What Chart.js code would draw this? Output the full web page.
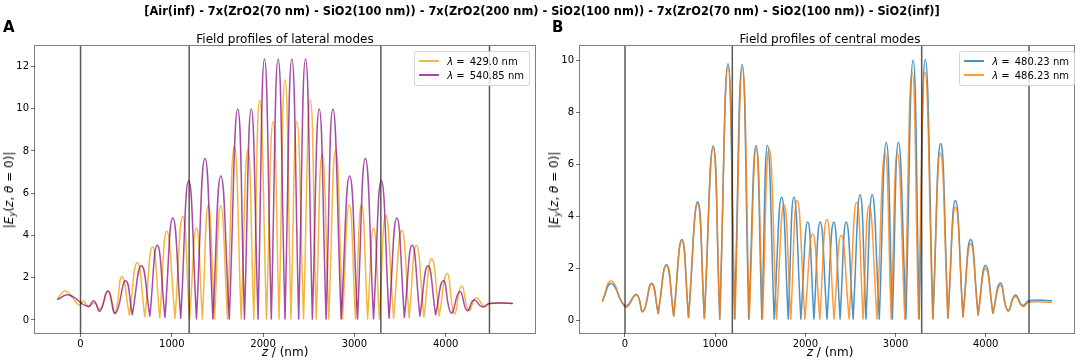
<!DOCTYPE html>
<html>
<head>
<meta charset="utf-8">
<script src="https://cdn.jsdelivr.net/npm/chart.js@4.4.1/dist/chart.umd.min.js"></script>
<style>
  html, body { margin: 0; padding: 0; background: #fff; }
  body { width: 1084px; height: 363px; position: relative; overflow: hidden;
         font-family: "DejaVu Sans", sans-serif; color: #000; }
  canvas { position: absolute; top: 0; }
  .txt { position: absolute; white-space: nowrap; }
  .sup { font-weight: bold; font-size: 11.4px; line-height: 12px; left: 542px; top: 5px; transform: translateX(-50%); }
  .pl { font-weight: bold; font-size: 15px; line-height: 15px; top: 20px; }
  .st { font-size: 12px; line-height: 12px; top: 33px; transform: translateX(-50%); }
  .xl { font-size: 12px; line-height: 12px; top: 346px; transform: translateX(-50%); }
  .yl { font-size: 12px; line-height: 14px; top: 189.5px; transform: translate(-50%, -50%) rotate(-90deg); }
  .yl sub { font-size: 8.5px; vertical-align: -2px; line-height: 0; }
  .leg { position: absolute; top: 51px; background: rgba(255,255,255,0.8);
         border: 1px solid rgba(204,204,204,0.8); border-radius: 3px;
         padding: 2px 5px 3px 4px; font-size: 10px; }
  .row { height: 14px; display: flex; align-items: center; white-space: nowrap; }
  .hl { width: 20px; height: 1.5px; margin-right: 8px; display: inline-block; }
</style>
</head>
<body>
<canvas id="chartA" width="545" height="363" style="left:0px"></canvas>
<canvas id="chartB" width="539" height="363" style="left:545px"></canvas>

<div class="txt sup">[Air(inf) - 7x(ZrO2(70 nm) - SiO2(100 nm)) - 7x(ZrO2(200 nm) - SiO2(100 nm)) - 7x(ZrO2(70 nm) - SiO2(100 nm)) - SiO2(inf)]</div>
<div class="txt pl" style="left:3px">A</div>
<div class="txt pl" style="left:552px">B</div>
<div class="txt st" style="left:285px">Field profiles of lateral modes</div>
<div class="txt st" style="left:830px">Field profiles of central modes</div>
<div class="txt xl" style="left:285px"><i>z</i> / (nm)</div>
<div class="txt xl" style="left:830px"><i>z</i> / (nm)</div>
<div class="txt yl" style="left:9px">|<i>E</i><sub><i>y</i></sub>(<i>z</i>, <i>θ</i> = 0)|</div>
<div class="txt yl" style="left:554px">|<i>E</i><sub><i>y</i></sub>(<i>z</i>, <i>θ</i> = 0)|</div>

<div class="leg" style="right:554px">
  <div class="row"><span class="hl" style="background:rgba(240,160,0,0.75)"></span><span><i>λ</i> =&ensp;429.0 nm</span></div>
  <div class="row"><span class="hl" style="background:rgba(128,0,128,0.7)"></span><span><i>λ</i> =&ensp;540.85 nm</span></div>
</div>
<div class="leg" style="right:9px">
  <div class="row"><span class="hl" style="background:rgba(31,119,180,0.8)"></span><span><i>λ</i> =&ensp;480.23 nm</span></div>
  <div class="row"><span class="hl" style="background:rgba(255,127,14,0.8)"></span><span><i>λ</i> =&ensp;486.23 nm</span></div>
</div>

<script>
// ---- axis ticks and layer interfaces (nm) ----
const Z_TICKS = [0, 1000, 2000, 3000, 4000];
const A_Y_TICKS = [0, 2, 4, 6, 8, 10, 12];
const B_Y_TICKS = [0, 2, 4, 6, 8, 10];
const INTERFACES = [0, 1190, 3290, 4480];

// ---- panel A: lateral modes, [z (nm), |Ey|] read at peaks and minima ----
const A_429 = [[-250,1.02],[-164,1.37],[-18,0.71],[29,0.9],[85,0.65],[150,0.8],[215,0.52],[307,1.37],[378,0.35],[452,2.04],[535,0.22],[622,2.71],[705,0.15],[789,3.45],[868,0.1],[945,4.2],[1035,0.07],[1120,4.91],[1195,0.04],[1270,4.35],[1335,0.04],[1400,5.41],[1468,0.04],[1536,5.41],[1610,0.04],[1685,8.2],[1760,0.04],[1833,8.05],[1898,0.04],[1963,10.4],[2037,0.04],[2110,9.4],[2175,0.04],[2240,11.37],[2305,0.04],[2370,9.4],[2443,0.04],[2517,10.43],[2582,0.04],[2647,7.85],[2720,0.04],[2795,8.05],[2870,0.04],[2944,5.44],[3012,0.04],[3079,5.44],[3145,0.04],[3210,4.35],[3275,0.04],[3344,4.94],[3430,0.07],[3519,4.24],[3600,0.1],[3679,3.53],[3762,0.14],[3846,2.9],[3930,0.2],[4016,2.2],[4095,0.3],[4173,1.6],[4255,0.45],[4333,1.05],[4425,0.62],[4480,0.78],[4730,0.78]];
const A_541 = [[-250,0.97],[-128,1.18],[80,0.63],[146,0.9],[212,0.42],[299,1.37],[383,0.31],[493,1.85],[567,0.24],[667,2.57],[759,0.18],[841,3.53],[925,0.12],[1011,4.83],[1098,0.08],[1185,6.59],[1270,0.05],[1363,7.64],[1450,0.04],[1537,6.82],[1630,0.04],[1722,9.99],[1796,0.04],[1870,9.99],[1945,0.04],[2015,12.35],[2090,0.04],[2165,12.35],[2240,0.04],[2315,12.35],[2390,0.04],[2465,12.35],[2540,0.04],[2615,9.99],[2690,0.04],[2765,9.99],[2855,0.04],[2948,6.82],[3035,0.04],[3120,7.64],[3210,0.05],[3295,6.59],[3380,0.08],[3465,4.83],[3548,0.12],[3633,3.53],[3718,0.18],[3806,2.57],[3890,0.24],[3975,1.85],[4060,0.33],[4155,1.35],[4235,0.44],[4310,0.94],[4400,0.62],[4480,0.78],[4730,0.78]];

// ---- panel B: central modes ----
const B_480 = [[-250,0.73],[-150,1.4],[5,0.55],[127,0.98],[200,0.33],[295,1.42],[368,0.26],[460,2.13],[540,0.16],[631,3.1],[704,0.1],[806,4.55],[880,0.06],[978,6.7],[1051,0.04],[1142,9.87],[1215,0.04],[1299,9.83],[1372,0.04],[1453,6.72],[1518,0.04],[1580,6.72],[1654,0.04],[1737,4.73],[1810,0.04],[1873,4.73],[1950,0.04],[2026,3.77],[2095,0.04],[2164,3.77],[2240,0.04],[2315,3.77],[2385,0.04],[2453,3.77],[2530,0.04],[2607,4.82],[2672,0.04],[2741,4.82],[2820,0.04],[2897,6.83],[2965,0.04],[3032,6.83],[3115,0.04],[3195,10.0],[3262,0.04],[3330,10.03],[3415,0.05],[3500,6.8],[3582,0.08],[3664,4.6],[3748,0.12],[3832,3.1],[3915,0.19],[3998,2.1],[4080,0.26],[4162,1.42],[4245,0.36],[4327,0.96],[4410,0.56],[4480,0.74],[4730,0.74]];
const B_486 = [[-250,0.75],[-150,1.5],[5,0.5],[127,0.96],[200,0.32],[295,1.4],[368,0.25],[460,2.1],[540,0.15],[631,3.05],[704,0.1],[806,4.47],[880,0.06],[978,6.6],[1051,0.04],[1142,9.75],[1220,0.04],[1302,9.7],[1378,0.04],[1456,6.62],[1525,0.04],[1598,6.6],[1680,0.04],[1763,4.44],[1838,0.04],[1909,4.6],[1995,0.04],[2081,3.32],[2160,0.04],[2238,3.87],[2318,0.04],[2398,3.26],[2485,0.04],[2569,4.53],[2640,0.04],[2708,4.4],[2795,0.04],[2883,6.42],[2952,0.04],[3021,6.42],[3103,0.04],[3184,9.54],[3255,0.04],[3326,9.54],[3412,0.05],[3497,6.43],[3580,0.08],[3664,4.34],[3748,0.12],[3832,2.94],[3915,0.19],[3998,1.98],[4080,0.26],[4162,1.34],[4245,0.36],[4327,0.9],[4410,0.52],[4480,0.68],[4730,0.68]];

// Build line points; near-zero minima become sharp cusps (segment break).
function buildSeries(pairs) {
  const pts = [];
  for (let i = 0; i < pairs.length; i++) {
    const [z, e] = pairs[i];
    pts.push({ x: z, y: e });
    const cusp = i > 0 && i < pairs.length - 1 && e < pairs[i-1][1] && e < pairs[i+1][1] && e < 0.3;
    if (cusp) { pts.push({ x: z, y: null }); pts.push({ x: z, y: e }); }
  }
  return pts;
}

const FONT = { family: '"DejaVu Sans", sans-serif', size: 10 };
const TICK_COLOR = 'rgba(0,0,0,0.55)';

const framePlugin = {
  id: 'frame',
  afterDatasetsDraw(chart) {
    const { ctx, chartArea: a } = chart;
    ctx.save();
    ctx.strokeStyle = 'rgba(0,0,0,0.5)';
    ctx.lineWidth = 1;
    ctx.strokeRect(a.left - 0.5, a.top - 0.5, a.right - a.left + 1, a.bottom - a.top + 1);
    ctx.restore();
  }
};

function makeChart(id, series, yMin, yMax, yTicks) {
  const datasets = [];
  INTERFACES.forEach(z => datasets.push({
    data: [{ x: z, y: yMin - 5 }, { x: z, y: yMax + 5 }],
    borderColor: 'rgba(0,0,0,0.65)', borderWidth: 1.5, pointRadius: 0, tension: 0
  }));
  series.forEach(s => datasets.push({
    label: s.label, data: buildSeries(s.pairs), borderColor: s.color, borderWidth: 1.5,
    pointRadius: 0, tension: 0.5, borderCapStyle: 'round', borderJoinStyle: 'round', spanGaps: false
  }));
  return new Chart(document.getElementById(id), {
    type: 'line',
    data: { datasets },
    options: {
      responsive: false, animation: false, events: [],
      layout: { padding: { left: 0, right: 10, top: 46, bottom: 0 } },
      plugins: { legend: { display: false }, tooltip: { enabled: false }, title: { display: false } },
      scales: {
        x: {
          type: 'linear', min: -499, max: 4979,
          afterBuildTicks: s => { s.ticks = Z_TICKS.map(v => ({ value: v })); },
          afterFit: s => { s.height = 30; },
          grid: { drawOnChartArea: false, drawTicks: true, tickLength: 4, color: TICK_COLOR },
          border: { display: false },
          ticks: { font: FONT, color: '#000', padding: 1, maxRotation: 0, callback: v => String(v) }
        },
        y: {
          type: 'linear', min: yMin, max: yMax,
          afterBuildTicks: s => { s.ticks = yTicks.map(v => ({ value: v })); },
          afterFit: s => { s.width = 35; },
          grid: { drawOnChartArea: false, drawTicks: true, tickLength: 4, color: TICK_COLOR },
          border: { display: false },
          ticks: { font: FONT, color: '#000', padding: 2, callback: v => String(v) }
        }
      }
    },
    plugins: [framePlugin]
  });
}

// Chart.js draws the first dataset on top: purple over orange (A), orange over blue (B)
makeChart('chartA', [
  { label: 'λ = 540.85 nm', pairs: A_541, color: 'rgba(128,0,128,0.7)' },
  { label: 'λ = 429.0 nm', pairs: A_429, color: 'rgba(240,160,0,0.75)' }
], -0.62, 12.97, A_Y_TICKS);

makeChart('chartB', [
  { label: 'λ = 486.23 nm', pairs: B_486, color: 'rgba(255,127,14,0.8)' },
  { label: 'λ = 480.23 nm', pairs: B_480, color: 'rgba(31,119,180,0.8)' }
], -0.5, 10.55, B_Y_TICKS);
</script>
</body>
</html>
